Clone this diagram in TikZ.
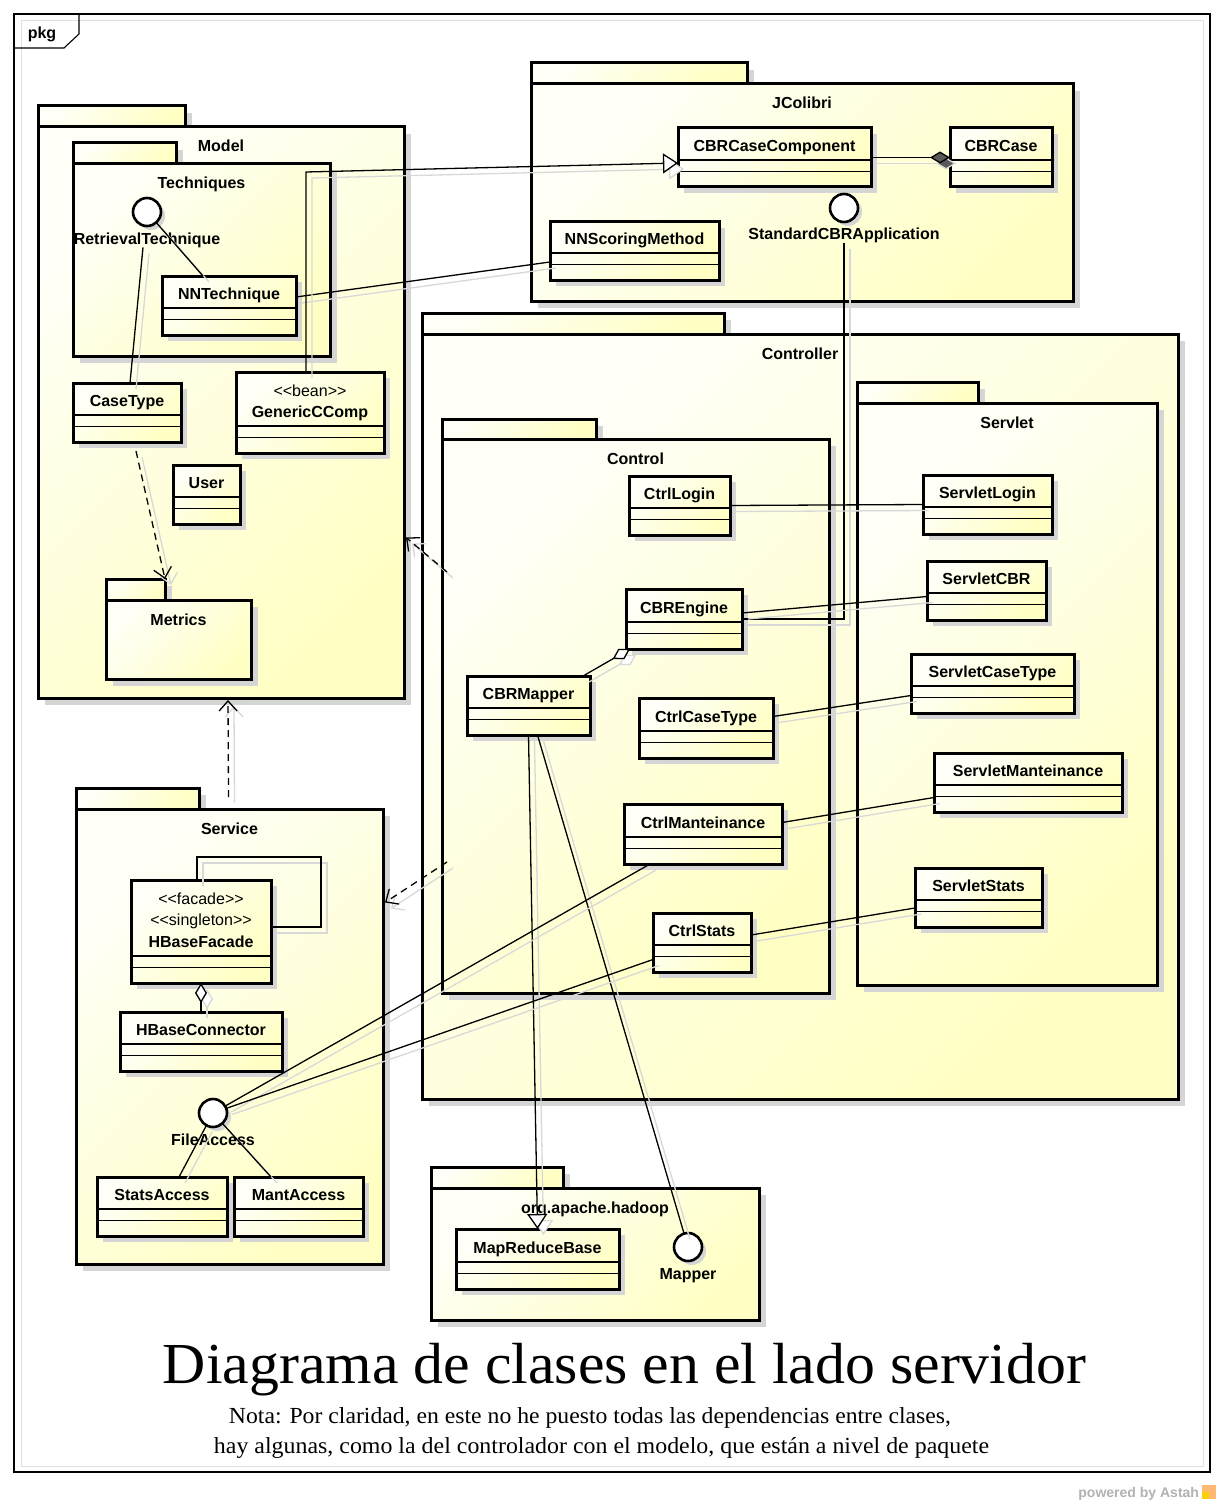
\documentclass[tikz,border=0pt]{standalone}
\usepackage{fontspec}
\usepackage{graphicx}
\setmainfont{Liberation Serif}
\newfontfamily\umlsans{Liberation Sans}
\usetikzlibrary{arrows.meta,calc}

\definecolor{fillA}{HTML}{FFFFF8}
\definecolor{fillB}{HTML}{FFFFC4}
\definecolor{shadegray}{HTML}{D5D5D5}
\definecolor{lineshade}{HTML}{D8D8D8}

\tikzset{
  every node/.style={inner sep=0pt, outer sep=0pt},
  pkgbox/.style={rectangle, draw, line width=3pt, top color=fillA, bottom color=fillB, shading angle=45},
  clsbox/.style={rectangle, draw, line width=3pt, top color=fillA, bottom color=fillB, shading angle=45},
  cmpline/.style={line width=1.3pt},
  clsname/.style={font=\umlsans\bfseries\fontsize{16}{20}\selectfont, anchor=base},
  stereo/.style={font=\umlsans\fontsize{16}{20}\selectfont, anchor=base},
  pkgname/.style={font=\umlsans\bfseries\fontsize{16}{20}\selectfont, anchor=base},
  iface/.style={circle, draw, line width=2.6pt, fill=white, minimum size=28pt},
  conn/.style={line width=1.3pt, preaction={draw=lineshade, line width=1.3pt, transform canvas={shift={(6pt,-6pt)}}}},
  dep/.style={conn, dash pattern=on 7pt off 5pt, -{Straight Barb[length=10pt,width=18pt]}},
  gen/.style={conn, -{Triangle[length=15pt,width=20pt,fill=white]}},
  aggr/.style={conn, -{Diamond[length=20pt,width=12pt,fill=white]}},
  comp/.style={conn, -{Diamond[length=20pt,width=12pt,fill=black!65]}},
}

% package: name, left, tab top, tab right, body top, right, bottom, label
\newcommand{\umlpkg}[8]{%
  \fill[shadegray] (#2+7,#3+7) rectangle (#4+7,#5+7);
  \fill[shadegray] (#2+7,#5+7) rectangle (#6+7,#7+7);
  \node[pkgbox, anchor=north west, minimum width={(#4-#2)*1pt}, minimum height={(#5-#3)*1pt}] (#1tab) at (#2,#3) {};
  \node[pkgbox, anchor=north west, minimum width={(#6-#2)*1pt}, minimum height={(#7-#5)*1pt}] (#1) at (#2,#5) {};
  \node[pkgname] (#1name) at ({(#2+#6)/2},#5+25) {#8};
}

% class: name, left, top, right, height of the name compartment
\newcommand{\umlcls}[5]{%
  \fill[shadegray] (#2+6,#3+6) rectangle (#4+6,#3+#5+33);
  \node[clsbox, anchor=north west, minimum width={(#4-#2)*1pt}, minimum height={(#5+27)*1pt}] (#1) at (#2,#3) {};
  \draw[cmpline] ($(#1.north west)+(0,#5)$) -- ($(#1.north east)+(0,#5)$);
  \draw[cmpline] ($(#1.north west)+(0,#5+11.5)$) -- ($(#1.north east)+(0,#5+11.5)$);
  \node[clsname] (#1name) at ($(#1.north)+(0,#5-8.5)$) {#1};
}

% interface (lollipop): name, x, y, label
\newcommand{\umliface}[4]{%
  \fill[shadegray] (#2+4,#3+4) circle (14pt);
  \node[iface] (#1) at (#2,#3) {};
  \node[pkgname] (#1lbl) at (#2,#3+32) {#4};
}

\begin{document}
\begin{tikzpicture}[x=1pt,y=-1pt]
\fill[white] (0,0) rectangle (1223,1506);
\useasboundingbox (0,0) rectangle (1223,1506);

% diagram frame
\draw[black!12, line width=1pt] (21,21) rectangle (1203,1466);
\draw[line width=1.1pt] (14,14) rectangle (1210,1472);
\draw[line width=1.1pt] (14,48) -- (64,48) -- (79,34) -- (79,14);
\node[pkgname] (framelabel) at (42,39) {pkg};

% packages
\umlpkg{Model}{38}{106}{185}{127}{404}{698}{Model}
\umlpkg{Techniques}{73}{143}{176}{164}{330}{356}{Techniques}
\umlpkg{Metrics}{106}{579}{165}{600}{251}{679}{Metrics}
\umlpkg{JColibri}{531}{63}{747}{84}{1073}{301}{JColibri}
\umlpkg{Controller}{422}{313}{724}{334}{1178}{1099}{Controller}
\umlpkg{Control}{442}{419}{596}{439}{829}{993}{Control}
\umlpkg{Servlet}{857}{382}{978}{403}{1157}{985}{Servlet}
\umlpkg{Service}{76}{788}{199}{809}{383}{1264}{Service}
\umlpkg{Hadoop}{431}{1167}{563}{1188}{759}{1320}{org.apache.hadoop}

% classes
\umlcls{NNTechnique}{162}{276}{296}{32}
\umlcls{CaseType}{73}{383}{181}{32}
\umlcls{GenericCComp}{236}{372}{384}{54}
\node[stereo] (beanst) at ($(GenericCComp.north)+(0,24)$) {<\kern0pt<bean>\kern0pt>};
\umlcls{User}{173}{465}{240}{32}
\umlcls{CBRCaseComponent}{678}{128}{871}{32}
\umlcls{CBRCase}{950}{128}{1052}{32}
\umlcls{NNScoringMethod}{550}{222}{719}{31}
\umlcls{CtrlLogin}{629}{476}{730}{32}
\umlcls{CBREngine}{626}{589}{742}{33}
\umlcls{CBRMapper}{467}{676}{590}{32}
\umlcls{CtrlCaseType}{639}{698}{773}{33}
\umlcls{CtrlManteinance}{624}{804}{782}{33}
\umlcls{CtrlStats}{653}{913}{751}{32}
\umlcls{ServletLogin}{923}{475}{1052}{32}
\umlcls{ServletCBR}{927}{561}{1046}{32}
\umlcls{ServletCaseType}{911}{654}{1074}{32}
\umlcls{ServletManteinance}{934}{753}{1122}{32}
\umlcls{ServletStats}{915}{868}{1042}{32}
\umlcls{HBaseFacade}{131}{880}{271}{76}
\node[stereo] (facadest) at ($(HBaseFacade.north)+(0,24)$) {<\kern0pt<facade>\kern0pt>};
\node[stereo] (singletonst) at ($(HBaseFacade.north)+(0,45)$) {<\kern0pt<singleton>\kern0pt>};
\umlcls{HBaseConnector}{120}{1012}{282}{32}
\umlcls{StatsAccess}{97}{1177}{227}{32}
\umlcls{MantAccess}{234}{1177}{363}{32}
\umlcls{MapReduceBase}{456}{1229}{619}{33}

% interfaces
\umliface{RetrievalTechnique}{147}{212}{RetrievalTechnique}
\umliface{StandardCBRApplication}{844}{208}{StandardCBRApplication}
\umliface{FileAccess}{213}{1113}{FileAccess}
\umliface{Mapper}{688}{1247}{Mapper}

% associations, realizations, generalizations
\draw[conn] (RetrievalTechnique) -- ($(NNTechnique.north)+(-26,0)$);
\draw[conn] ($(RetrievalTechniquelbl.south)+(-4,0)$) -- ($(CaseType.north)+(3,0)$);
\draw[conn] ($(NNTechnique.north east)+(0,21)$) -- ($(NNScoringMethod.north west)+(0,40)$);
\draw[gen] ($(GenericCComp.north)+(-4,0)$) -- ++(0,-200) -- ($(CBRCaseComponent.west)+(0,5.5)$);
\draw[comp] (CBRCaseComponent.east) -- (CBRCase.west);
\draw[conn] (StandardCBRApplicationlbl.south) |- (CBREngine.east);
\draw[conn] ($(CBREngine.east)+(0,-6)$) -- ($(ServletCBR.west)+(0,6)$);
\draw[conn] (CtrlLogin.east) -- (ServletLogin.west);
\draw[conn] ($(CtrlCaseType.east)+(0,-11.5)$) -- ($(ServletCaseType.west)+(0,12)$);
\draw[conn] ($(CtrlManteinance.east)+(0,-11.5)$) -- ($(ServletManteinance.west)+(0,15)$);
\draw[conn] ($(CtrlStats.east)+(0,-7.5)$) -- ($(ServletStats.west)+(0,10.5)$);
\draw[aggr] ($(CBRMapper.north east)+(-7,0)$) -- ($(CBREngine.south west)+(4,0)$);
\draw[gen] (CBRMapper.south) -- (MapReduceBase.north);
\draw[conn] ($(CBRMapper.south)+(9,0)$) -- (Mapper);
\draw[conn] ($(CtrlManteinance.south west)+(26,0)$) -- (FileAccess);
\draw[conn] ($(CtrlStats.west)+(0,17)$) -- (FileAccess);
\draw[conn] ($(StatsAccess.north)+(17,0)$) -- (FileAccess);
\draw[conn] ($(MantAccess.north)+(-27.5,0)$) -- (FileAccess);
\draw[conn] ($(HBaseFacade.north)+(-4,0)$) -- ++(0,-23) -- ++(124,0) |- ($(HBaseFacade.east)+(0,-4.5)$);
\draw[aggr] (HBaseConnector.north) -- (HBaseFacade.south);

% dependencies
\draw[dep] ($(CaseType.south)+(9,9)$) -- (Metricstab.north east);
\draw[dep] ($(Controller.north west)+(25,238)$) -- ($(Model.east)+(2,125)$);
\draw[dep] ($(Controller.north west)+(25,528)$) -- ($(Service.east)+(2,-134)$);
\draw[dep] ($(Service.north)+(-1,-12)$) -- ($(Model.south)+(7,2)$);

% caption
\node[anchor=base] (title) at (624.5,1383) {\resizebox{923pt}{\height}{\fontsize{58}{58}\selectfont Diagrama de clases en el lado servidor}};
\node[anchor=base] (note1) at (590,1423) {\resizebox{722pt}{\height}{\fontsize{23}{23}\selectfont Nota: Por claridad, en este no he puesto todas las dependencias entre clases,}};
\node[anchor=base] (note2) at (601.5,1453) {\resizebox{775pt}{\height}{\fontsize{23}{23}\selectfont hay algunas, como la del controlador con el modelo, que están a nivel de paquete}};

% tool credit
\node[anchor=base east, text=black!30, font=\umlsans\bfseries\fontsize{14}{14}\selectfont] (astah) at (1199,1497) {powered by Astah};
\fill[orange!55] (1202,1485) rectangle (1216,1499);
\fill[yellow!70!orange] (1202,1492) rectangle (1209,1499);
\end{tikzpicture}
\end{document}
